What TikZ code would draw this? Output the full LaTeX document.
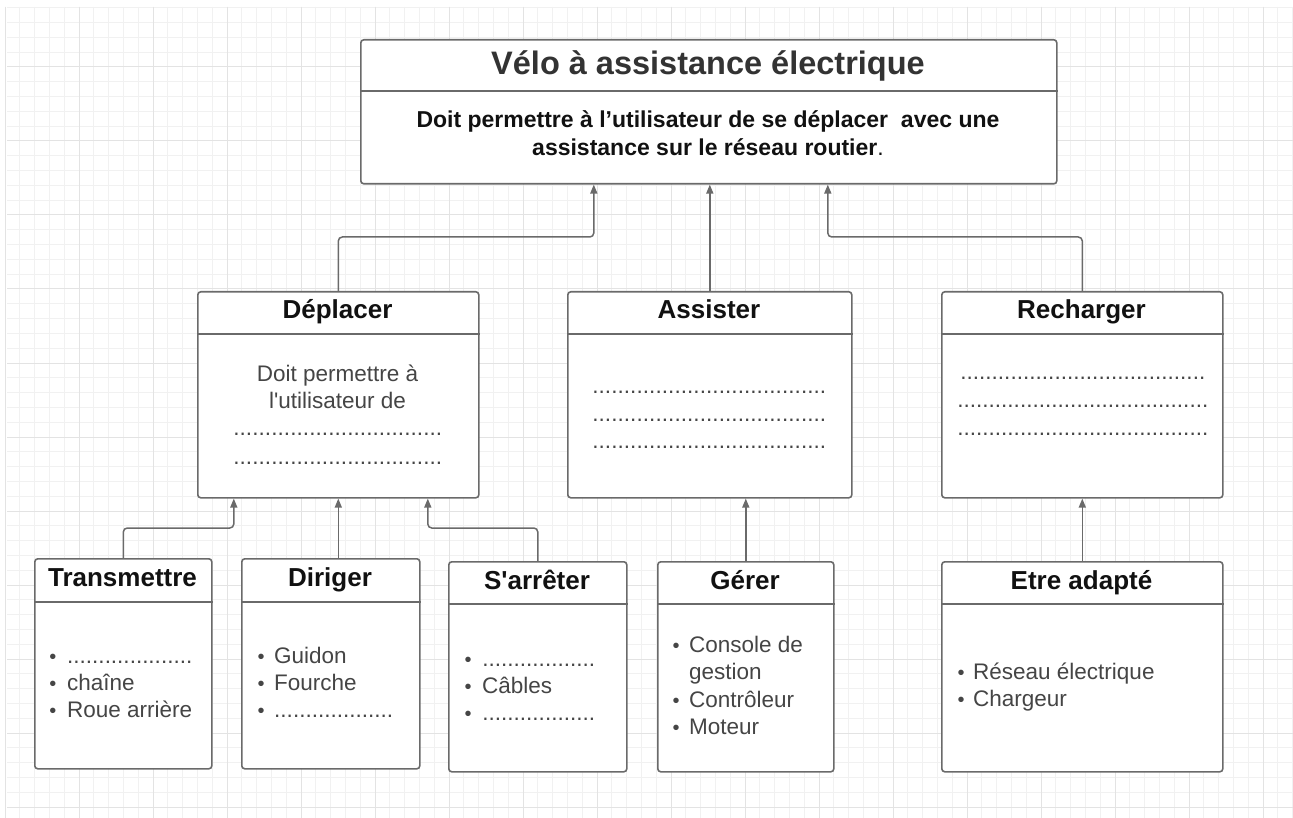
\documentclass[tikz,border=0pt]{standalone}
\usepackage{fontspec}
\setmainfont{Liberation Sans}
\usetikzlibrary{arrows.meta,calc}
\definecolor{gridmin}{HTML}{F1F1F1}
\definecolor{gridmaj}{HTML}{E3E3E3}
\definecolor{boxc}{HTML}{6A6A6A}
\definecolor{linec}{HTML}{6A6A6A}
\definecolor{titc}{HTML}{333333}
\definecolor{bodyc}{HTML}{454545}
\definecolor{headc}{HTML}{111111}
\newcommand{\dotrow}[1]{\makebox[#1pt][l]{\xleaders\hbox to 6.2pt{\hss.\hss}\hfill}}
\begin{document}
\begin{tikzpicture}[x=1pt,y=-1pt,
 box/.style={draw=boxc,line width=1.6pt,rounded corners=3pt,fill=white,inner sep=0pt,anchor=north west},
 divl/.style={draw=boxc,line width=1.6pt},
 conn/.style={draw=linec,line width=1.5pt,rounded corners=4pt,-{Triangle[width=7pt,length=9pt]}},
 title/.style={font=\fontsize{32.5}{38}\selectfont\bfseries,text=titc,anchor=base,inner sep=0pt},
 head/.style={font=\fontsize{26}{30}\selectfont\bfseries,text=headc,anchor=base,inner sep=0pt},
 tb/.style={font=\fontsize{23}{28}\selectfont\bfseries,text=headc,anchor=base,inner sep=0pt},
 txt/.style={font=\fontsize{22.5}{27}\selectfont,text=bodyc,anchor=base west,inner sep=0pt},
 ctxt/.style={font=\fontsize{22.5}{27}\selectfont,text=bodyc,anchor=base,inner sep=0pt},
 bul/.style={font=\fontsize{20}{27}\selectfont,text=bodyc,anchor=base,inner sep=0pt},
]
\useasboundingbox (0,0) rectangle (1293,818);
\fill[white] (0,0) rectangle (1293,818);
% grid
\foreach \i in {0,...,87} {\pgfmathsetmacro\gx{5+14.8*\i}
  \draw[gridmin,line width=1pt] (\gx,7) -- (\gx,818);}
\foreach \j in {0,...,54} {\pgfmathsetmacro\gy{7.8+14.8*\j}
  \draw[gridmin,line width=1pt] (7,\gy) -- (1293,\gy);}
\foreach \i in {0,...,17} {\pgfmathsetmacro\gx{5+74*\i}
  \draw[gridmaj,line width=1pt] (\gx,7) -- (\gx,818);}
\foreach \j in {0,...,10} {\pgfmathsetmacro\gy{67+74*\j}
  \draw[gridmaj,line width=1pt] (7,\gy) -- (1293,\gy);}

% boxes
\node[box,minimum width=696pt,minimum height=144pt] (top) at (360,39) {};
\node[box,minimum width=281pt,minimum height=206pt] (dep) at (197,291) {};
\node[box,minimum width=284pt,minimum height=206pt] (ass) at (567,291) {};
\node[box,minimum width=281pt,minimum height=206pt] (rec) at (941,291) {};
\node[box,minimum width=177pt,minimum height=210pt] (tra) at (34,558) {};
\node[box,minimum width=178pt,minimum height=210pt] (dir) at (241,558) {};
\node[box,minimum width=178pt,minimum height=210pt] (sar) at (448,561) {};
\node[box,minimum width=176pt,minimum height=210pt] (ger) at (657,561) {};
\node[box,minimum width=281pt,minimum height=210pt] (etr) at (941,561) {};

\draw[divl] ([yshift=-52pt]top.north west) -- ([yshift=-52pt]top.north east);
\draw[divl] ([yshift=-43pt]dep.north west) -- ([yshift=-43pt]dep.north east);
\draw[divl] ([yshift=-43pt]ass.north west) -- ([yshift=-43pt]ass.north east);
\draw[divl] ([yshift=-43pt]rec.north west) -- ([yshift=-43pt]rec.north east);
\draw[divl] ([yshift=-44pt]tra.north west) -- ([yshift=-44pt]tra.north east);
\draw[divl] ([yshift=-44pt]dir.north west) -- ([yshift=-44pt]dir.north east);
\draw[divl] ([yshift=-43pt]sar.north west) -- ([yshift=-43pt]sar.north east);
\draw[divl] ([yshift=-43pt]ger.north west) -- ([yshift=-43pt]ger.north east);
\draw[divl] ([yshift=-43pt]etr.north west) -- ([yshift=-43pt]etr.north east);

% connectors
\draw[conn] (dep.north) -- ++(0,-54) -| ([xshift=-115pt]top.south);
\draw[conn] (ass.north) -- (ass.north |- top.south);
\draw[conn] (rec.north) -- ++(0,-54) -| ([xshift=119pt]top.south);
\draw[conn] (tra.north) -- ++(0,-30) -| ([xshift=-104.5pt]dep.south);
\draw[conn] (dir.north -| dep.south) -- (dep.south);
\draw[conn] (sar.north) -- ++(0,-33) -| ([xshift=89.5pt]dep.south);
\draw[conn] (ger.north) -- (ger.north |- ass.south);
\draw[conn] (etr.north) -- (etr.north |- rec.south);

% top texts
\node[title] (tt) at (708,75) {Vélo à assistance électrique};
\node[tb] (tb1) at (708,128) {Doit permettre à l’utilisateur de se déplacer\ \ avec une};
\node[tb] (tb2) at (708,156) {assistance sur le réseau routier\mdseries.};

% headers
\node[head] (hdep) at (337.5,319) {Déplacer};
\node[head] (hass) at (709,319) {Assister};
\node[head] (hrec) at (1081.5,319) {Recharger};
\node[head] (htra) at (122.5,586) {Transmettre};
\node[head] (hdir) at (330,586) {Diriger};
\node[head] (hsar) at (537,589) {S\textquotesingle arrêter};
\node[head] (hger) at (745,589) {Gérer};
\node[head] (hetr) at (1081.5,589) {Etre adapté};

% Deplacer body
\node[ctxt] (d1) at (337.5,381) {Doit permettre à};
\node[ctxt] (d2) at (337.5,408) {l\textquotesingle utilisateur de};
\node[txt] (d3) at (233,435) {\dotrow{209}};
\node[txt] (d4) at (233,464) {\dotrow{209}};
% Assister body
\node[txt] (a1) at (592,393) {\dotrow{234}};
\node[txt] (a2) at (592,421) {\dotrow{234}};
\node[txt] (a3) at (592,448) {\dotrow{234}};
% Recharger body
\node[txt] (r1) at (960,379) {\dotrow{245}};
\node[txt] (r2) at (957,407) {\dotrow{251}};
\node[txt] (r3) at (957,435) {\dotrow{251}};

% Transmettre
\node[bul] (tb1b) at (53,663) {•};
\node[bul] (tb2b) at (53,690) {•};
\node[bul] (tb3b) at (53,717) {•};
\node[txt] (tx1) at (67,663) {\dotrow{125}};
\node[txt] (tx2) at (67,690) {chaîne};
\node[txt] (tx3) at (67,717) {Roue arrière};
% Diriger
\node[bul] (db1) at (261,663) {•};
\node[bul] (db2) at (261,690) {•};
\node[bul] (db3) at (261,717) {•};
\node[txt] (dx1) at (274,663) {Guidon};
\node[txt] (dx2) at (274,690) {Fourche};
\node[txt] (dx3) at (274,717) {\dotrow{119}};
% S'arreter
\node[bul] (sb1) at (468,666) {•};
\node[bul] (sb2) at (468,693) {•};
\node[bul] (sb3) at (468,720) {•};
\node[txt] (sx1) at (482,666) {\dotrow{113}};
\node[txt] (sx2) at (482,693) {Câbles};
\node[txt] (sx3) at (482,720) {\dotrow{113}};
% Gerer
\node[bul] (gb1) at (676,652) {•};
\node[bul] (gb3) at (676,707) {•};
\node[bul] (gb4) at (676,734) {•};
\node[txt] (gx1) at (689,652) {Console de};
\node[txt] (gx2) at (689,679) {gestion};
\node[txt] (gx3) at (689,707) {Contrôleur};
\node[txt] (gx4) at (689,734) {Moteur};
% Etre adapte
\node[bul] (eb1) at (961,679) {•};
\node[bul] (eb2) at (961,706) {•};
\node[txt] (ex1) at (973,679) {Réseau électrique};
\node[txt] (ex2) at (973,706) {Chargeur};
\end{tikzpicture}
\end{document}
